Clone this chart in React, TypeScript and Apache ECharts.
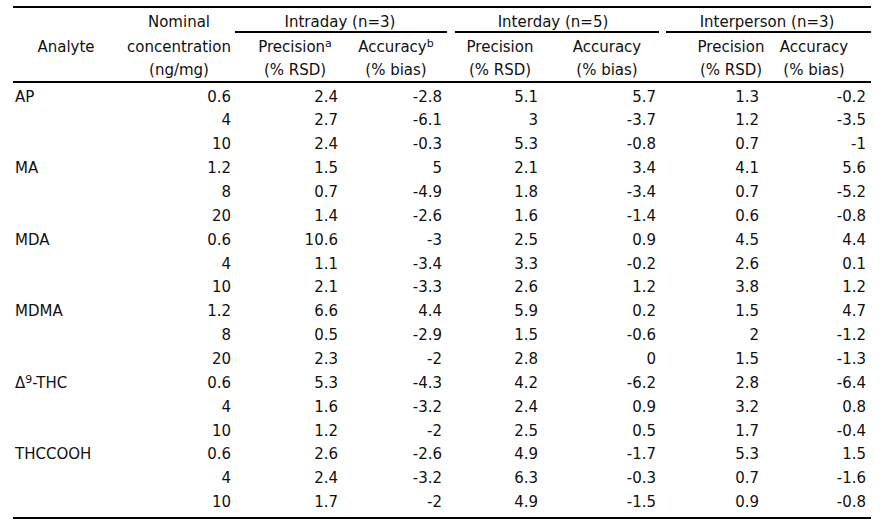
import React, { useEffect, useRef } from 'react';
import * as echarts from 'echarts';

// ---- data ----
const analytes = ['AP', '', '', 'MA', '', '', 'MDA', '', '', 'MDMA', '', '', 'Δ9-THC', '', '', 'THCCOOH', '', ''];
const concentrations = [0.6, 4, 10, 1.2, 8, 20, 0.6, 4, 10, 1.2, 8, 20, 0.6, 4, 10, 0.6, 4, 10];
const intradayPrecision = [2.4, 2.7, 2.4, 1.5, 0.7, 1.4, 10.6, 1.1, 2.1, 6.6, 0.5, 2.3, 5.3, 1.6, 1.2, 2.6, 2.4, 1.7];
const intradayAccuracy = [-2.8, -6.1, -0.3, 5, -4.9, -2.6, -3, -3.4, -3.3, 4.4, -2.9, -2, -4.3, -3.2, -2, -2.6, -3.2, -2];
const interdayPrecision = [5.1, 3, 5.3, 2.1, 1.8, 1.6, 2.5, 3.3, 2.6, 5.9, 1.5, 2.8, 4.2, 2.4, 2.5, 4.9, 6.3, 4.9];
const interdayAccuracy = [5.7, -3.7, -0.8, 3.4, -3.4, -1.4, 0.9, -0.2, 1.2, 0.2, -0.6, 0, -6.2, 0.9, 0.5, -1.7, -0.3, -1.5];
const interpersonPrecision = [1.3, 1.2, 0.7, 4.1, 0.7, 0.6, 4.5, 2.6, 3.8, 1.5, 2, 1.5, 2.8, 3.2, 1.7, 5.3, 0.7, 0.9];
const interpersonAccuracy = [-0.2, -3.5, -1, 5.6, -5.2, -0.8, 4.4, 0.1, 1.2, 4.7, -1.2, -1.3, -6.4, 0.8, -0.4, 1.5, -1.6, -0.8];

const groupTitles = ['Intraday (n=3)', 'Interday (n=5)', 'Interperson (n=3)'];
const nominalHeader = ['Nominal', 'concentration', '(ng/mg)'];
const analyteHeader = 'Analyte';
const subHeaders = ['Precision', 'Accuracy', 'Precision', 'Accuracy', 'Precision', 'Accuracy'];
const subFootnotes = ['a', 'b', '', '', '', ''];
const unitHeaders = ['(% RSD)', '(% bias)', '(% RSD)', '(% bias)', '(% RSD)', '(% bias)'];

// ---- layout / style ----
const W = 885;
const H = 529;
const FONT = 'DejaVu Sans';
const FS = 15;
const INK = '#111';
const colX = [15, 231, 338, 442, 538, 656, 759, 866];
const groupLines = [[235, 447], [455, 659], [666, 871]];
const groupCenters = [340, 553, 767];
const subCenters = [295, 396, 500, 607, 731, 814];
const rowY = [22, 47, 70];

const columns = [
  analytes,
  concentrations,
  intradayPrecision,
  intradayAccuracy,
  interdayPrecision,
  interdayAccuracy,
  interpersonPrecision,
  interpersonAccuracy,
];

const cellData: number[][] = [];
for (let r = 0; r < analytes.length; r++) {
  for (let c = 0; c < columns.length; c++) {
    if (c === 0 && analytes[r] === '') continue;
    cellData.push([colX[c], r, c]);
  }
}

const supRich = {
  m: { fontFamily: FONT, fontSize: FS, fill: INK, lineHeight: 18 },
  s: { fontFamily: FONT, fontSize: 11, fill: INK, verticalAlign: 'top', lineHeight: 11 },
};

function withSup(text: string) {
  // Δ9-THC → Δ with superscript 9
  const m = /^Δ(\d)(.*)$/.exec(text);
  if (m) return `{m|Δ}{s|${m[1]}}{m|${m[2]}}`;
  return null;
}

function txt(text: string, x: number, y: number, align = 'center', rich?: any) {
  return {
    type: 'text',
    silent: true,
    style: {
      text,
      x,
      y,
      align,
      verticalAlign: 'middle',
      fill: INK,
      fontFamily: FONT,
      fontSize: FS,
      rich,
    },
  };
}

function hline(x1: number, x2: number, y: number, w = 2) {
  return {
    type: 'line',
    silent: true,
    shape: { x1, y1: y, x2, y2: y },
    style: { stroke: '#000', lineWidth: w },
  };
}

export default function App() {
  const ref = useRef<HTMLDivElement>(null);
  useEffect(() => {
    if (!ref.current) return;
    const chart = echarts.init(ref.current, undefined, { renderer: 'svg' });

    const graphics: any[] = [];
    graphics.push(hline(13, 871, 7));
    graphics.push(hline(13, 871, 82));
    graphics.push(hline(13, 871, 518));
    groupLines.forEach(([a, b]) => graphics.push(hline(a, b, 32)));
    groupTitles.forEach((t, i) => graphics.push(txt(t, groupCenters[i], rowY[0])));
    nominalHeader.forEach((t, i) => graphics.push(txt(t, 179, rowY[i])));
    graphics.push(txt(analyteHeader, 66, rowY[1]));
    subHeaders.forEach((t, i) => {
      const f = subFootnotes[i];
      if (f) graphics.push(txt(`{m|${t}}{s|${f}}`, subCenters[i], rowY[1], 'center', supRich));
      else graphics.push(txt(t, subCenters[i], rowY[1]));
    });
    unitHeaders.forEach((t, i) => graphics.push(txt(t, subCenters[i], rowY[2])));

    chart.setOption({
      animation: false,
      grid: { left: 0, right: 0, top: 84.6, bottom: 15, containLabel: false },
      xAxis: { type: 'value', min: 0, max: W, show: false },
      yAxis: {
        type: 'category',
        inverse: true,
        show: false,
        data: analytes.map((_, i) => String(i)),
      },
      graphic: graphics,
      series: [
        {
          type: 'custom',
          data: cellData,
          encode: { x: 0, y: 1 },
          renderItem: (params: any, api: any) => {
            const x = api.value(0);
            const r = api.value(1);
            const c = api.value(2);
            const p = api.coord([x, r]);
            const v = String(columns[c][r]);
            const rich = c === 0 ? withSup(v) : null;
            return {
              type: 'text',
              x: p[0],
              y: p[1],
              style: {
                text: rich || v,
                rich: rich ? supRich : undefined,
                align: c === 0 ? 'left' : 'right',
                verticalAlign: 'middle',
                fill: INK,
                fontFamily: FONT,
                fontSize: FS,
              },
            };
          },
        },
      ],
    });
    return () => chart.dispose();
  }, []);
  return (
    <div
      ref={ref}
      style={{ position: 'absolute', left: 0, top: 0, width: W, height: H, background: '#fff' }}
    />
  );
}
